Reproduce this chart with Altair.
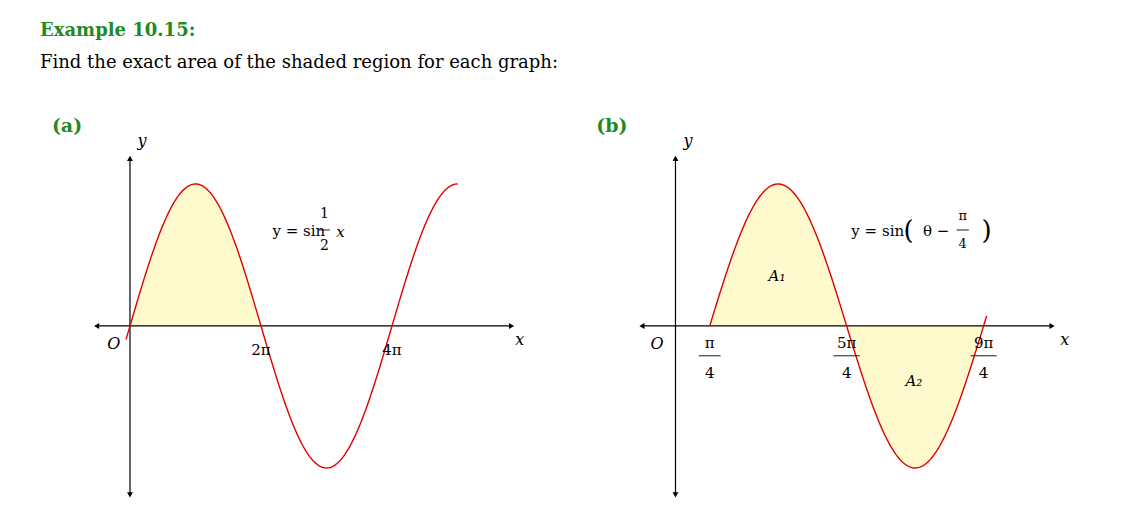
import altair as alt
import numpy as np
import pandas as pd

SERIF = "DejaVu Serif"
GREEN = "#1f8a1f"
FILL = "#fffacd"
PI = np.pi

# panel (a): y = sin(x/2)
a_x = np.linspace(-0.19, 5 * PI, 300)
a_fill_x = np.linspace(0, 2 * PI, 120)
# panel (b): y = sin(theta - pi/4)
b_x = np.linspace(PI / 4, 9 * PI / 4 + 0.07, 300)
b_fill_x = np.linspace(PI / 4, 9 * PI / 4, 200)

W, H = 520, 400
YDOM = [-1.282, 1.535]


def sc(dom):
    return alt.Scale(domain=dom, nice=False, zero=False)


def panel(curve_x, curve_y, fill_x, fill_y, xdom, axis_x, axis_y, texts, bars):
    X = lambda f: alt.X(f, scale=sc(xdom), axis=None)
    Y = lambda f: alt.Y(f, scale=sc(YDOM), axis=None)
    fill = alt.Chart(pd.DataFrame({"x": fill_x, "y": fill_y, "z": 0})).mark_area(
        color=FILL, opacity=1).encode(x=X("x:Q"), y=Y("y:Q"), y2="z:Q")
    axes = pd.DataFrame({"x": [axis_x[0], 0], "x2": [axis_x[1], 0],
                         "y": [0, axis_y[0]], "y2": [0, axis_y[1]]})
    rules = alt.Chart(axes).mark_rule(color="black", strokeWidth=1.2).encode(
        x=X("x:Q"), x2="x2:Q", y=Y("y:Q"), y2="y2:Q")
    heads = pd.DataFrame({"x": [axis_x[0], axis_x[1], 0, 0], "y": [0, 0, axis_y[0], axis_y[1]],
                          "s": ["triangle-left", "triangle-right", "triangle-down", "triangle-up"]})
    arrows = alt.Chart(heads).mark_point(filled=True, color="black", size=35, opacity=1).encode(
        x=X("x:Q"), y=Y("y:Q"), shape=alt.Shape("s:N", scale=None))
    line = alt.Chart(pd.DataFrame({"x": curve_x, "y": curve_y})).mark_line(
        color="#e00000", strokeWidth=1.4).encode(x=X("x:Q"), y=Y("y:Q"))
    fracbars = alt.Chart(pd.DataFrame(bars, columns=["x", "x2", "y"])).mark_rule(
        color="black", strokeWidth=0.9).encode(x=X("x:Q"), x2="x2:Q", y=Y("y:Q"))
    layers = [fill, rules, arrows, line, fracbars]
    for x, y, t, size, style, color, weight in texts:
        layers.append(alt.Chart(pd.DataFrame({"x": [x], "y": [y], "t": [t]})).mark_text(
            font=SERIF, fontSize=int(size), fontStyle=str(style), color=str(color),
            fontWeight=str(weight)).encode(x=X("x:Q"), y=Y("y:Q"), text="t:N"))
    return alt.layer(*layers).properties(width=W, height=H)


n, i = "normal", "italic"
a_texts = [
    (-3.02, 1.41, "(a)", 19, n, GREEN, "bold"),
    (0.58, 1.30, "y", 16, i, "black", n),
    (18.7, -0.10, "x", 16, i, "black", n),
    (-0.77, -0.13, "O", 16, i, "black", n),
    (2 * PI, -0.17, "2π", 15, n, "black", n),
    (4 * PI, -0.17, "4π", 15, n, "black", n),
    (8.1, 0.67, "y = sin", 15, n, "black", n),
    (9.33, 0.785, "1", 14, n, "black", n),
    (9.33, 0.565, "2", 14, n, "black", n),
    (10.1, 0.665, "x", 15, i, "black", n),
]
a_bars = [(9.07, 9.59, 0.676)]

b_texts = [
    (-1.46, 1.41, "(b)", 19, n, GREEN, "bold"),
    (0.29, 1.30, "y", 16, i, "black", n),
    (8.93, -0.10, "x", 16, i, "black", n),
    (-0.42, -0.13, "O", 16, i, "black", n),
    (PI / 4, -0.12, "π", 15, n, "black", n),
    (PI / 4, -0.33, "4", 15, n, "black", n),
    (5 * PI / 4, -0.12, "5π", 15, n, "black", n),
    (5 * PI / 4, -0.33, "4", 15, n, "black", n),
    (9 * PI / 4, -0.12, "9π", 15, n, "black", n),
    (9 * PI / 4, -0.33, "4", 15, n, "black", n),
    (2.33, 0.35, "A₁", 15, i, "black", n),
    (5.47, -0.39, "A₂", 15, i, "black", n),
    (4.64, 0.67, "y = sin", 15, n, "black", n),
    (5.35, 0.67, "(", 26, n, "black", n),
    (5.98, 0.67, "θ −", 15, n, "black", n),
    (6.59, 0.775, "π", 13, n, "black", n),
    (6.59, 0.575, "4", 13, n, "black", n),
    (7.14, 0.67, ")", 26, n, "black", n),
]
b_bars = [(PI / 4 - 0.25, PI / 4 + 0.25, -0.21), (5 * PI / 4 - 0.3, 5 * PI / 4 + 0.3, -0.21),
          (9 * PI / 4 - 0.3, 9 * PI / 4 + 0.3, -0.21), (6.45, 6.73, 0.676)]

pa = panel(a_x, np.sin(a_x / 2), a_fill_x, np.sin(a_fill_x / 2), [-4.22, 20.72],
           [-1.6, 18.3], [-1.19, 1.18], a_texts, a_bars)
pb = panel(b_x, np.sin(b_x - PI / 4), b_fill_x, np.sin(b_fill_x - PI / 4), [-2.03, 9.90],
           [-0.77, 8.64], [-1.19, 1.18], b_texts, b_bars)

chart = alt.hconcat(pa, pb, spacing=25).properties(
    padding={"left": 32, "top": 14, "right": 0, "bottom": 0},
    title=alt.TitleParams(
        "Example 10.15:", subtitle="Find the exact area of the shaded region for each graph:",
        anchor="start", font=SERIF, fontSize=18, fontWeight="bold", color=GREEN,
        subtitleFont=SERIF, subtitleFontSize=18, subtitleColor="black", subtitlePadding=14,
        offset=36, dx=-2),
).configure_view(stroke=None)

chart.save("out.html", embed_options={"renderer": "svg", "actions": False})
